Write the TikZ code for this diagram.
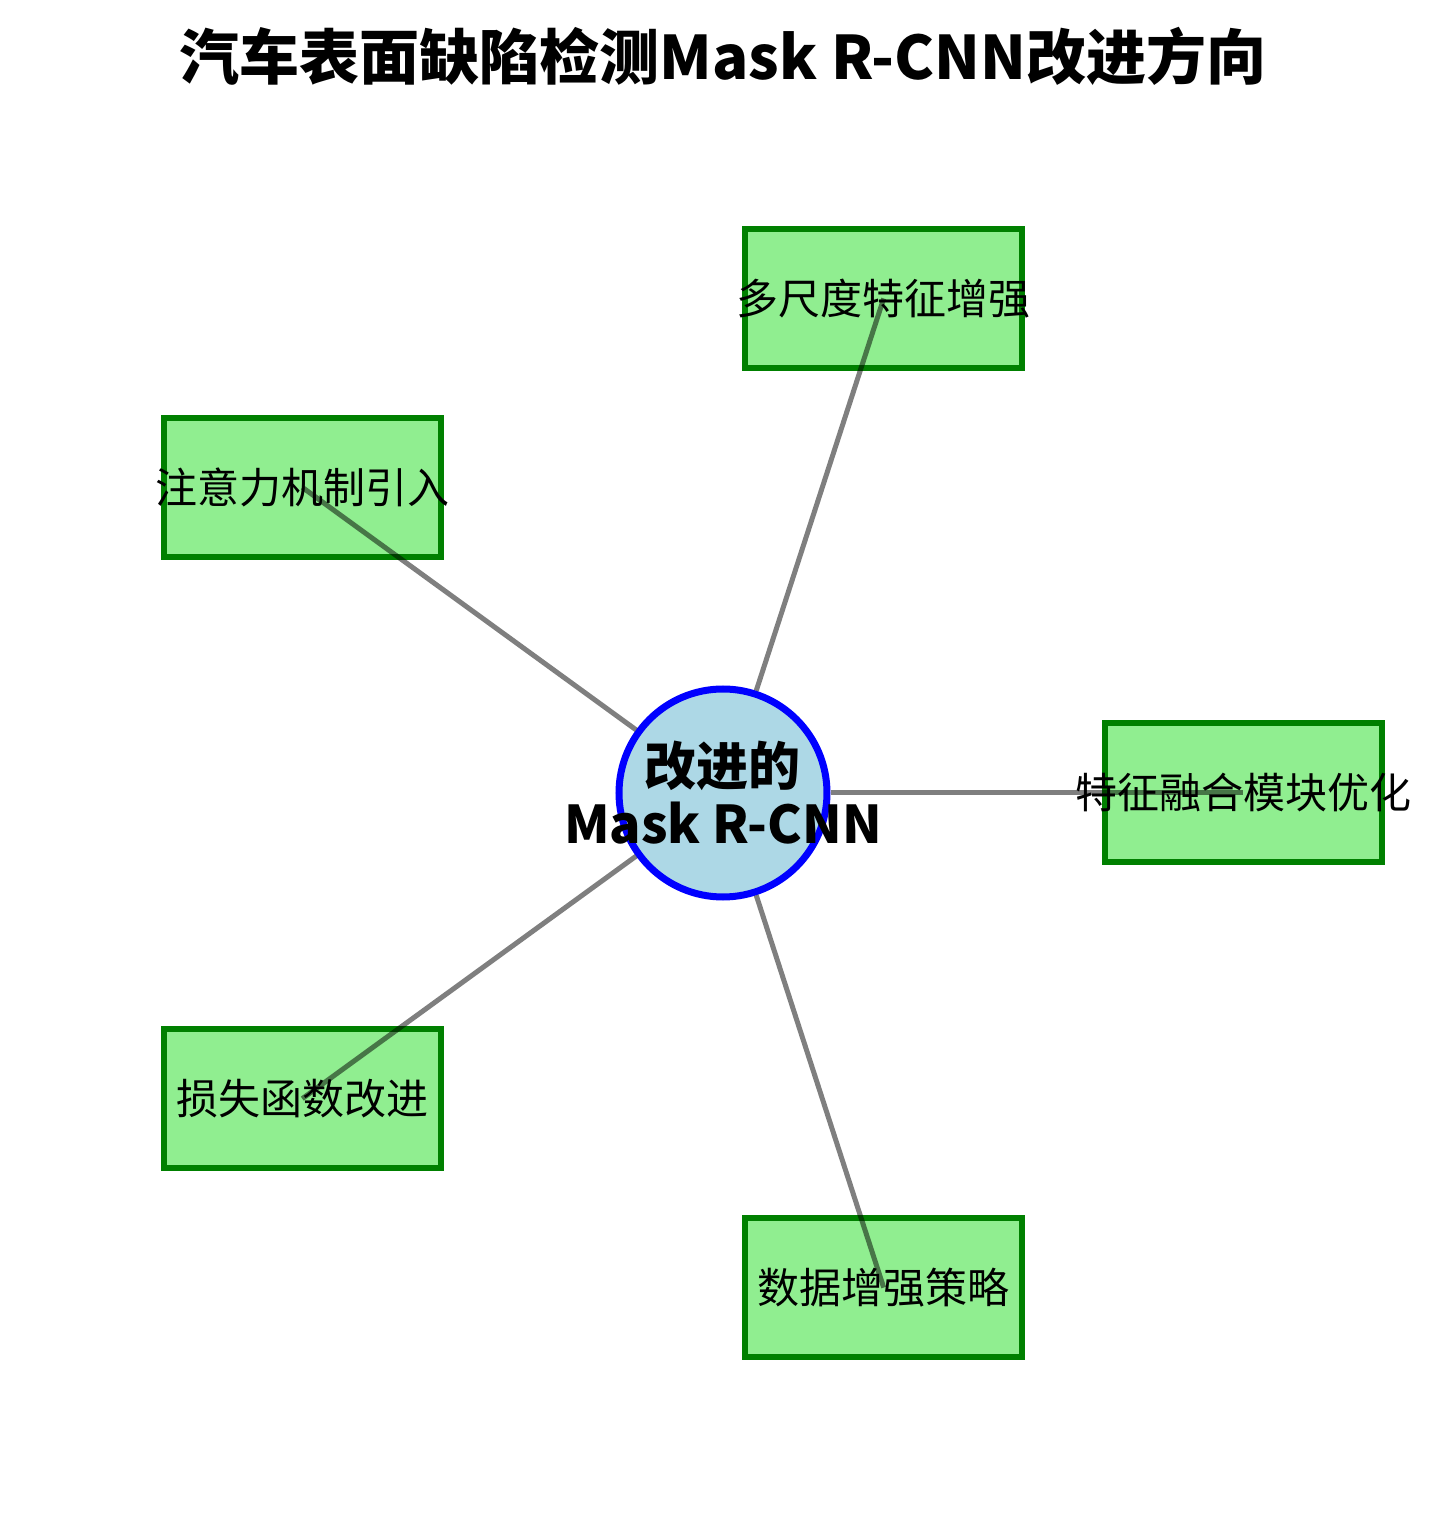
\documentclass[tikz,border=0pt]{standalone}
\usepackage{fontspec}
\setmainfont{Noto Sans CJK SC}
\usepackage{tikz}
\usetikzlibrary{positioning}
\definecolor{hubfill}{RGB}{173,216,230}
\definecolor{boxfill}{RGB}{144,238,144}
\definecolor{boxdraw}{RGB}{0,128,0}
\tikzset{
  hubnode/.style={circle, minimum size=208pt, inner sep=0pt, draw=blue,
    line width=7pt, fill=hubfill},
  hubtext/.style={align=center, font=\bfseries\fontsize{52}{58}\selectfont},
  branch/.style={rectangle, minimum width=277pt, minimum height=139pt,
    draw=boxdraw, line width=6pt, fill=boxfill},
  branchtext/.style={font=\fontsize{42}{50}\selectfont},
  link/.style={black, opacity=0.5, line width=5pt}
}

\begin{document}
\begin{tikzpicture}[x=1pt, y=1pt]
\useasboundingbox (-723,-724) rectangle (723,793);
\node (title) at (0,737) {\bfseries\fontsize{60}{70}\selectfont 汽车表面缺陷检测Mask R-CNN改进方向};
\node (hub)        [hubnode] at (0,0)    {};
\node (fusion)     [branch]  at (0:520)   {};
\node (multiscale) [branch]  at (72:520)  {};
\node (attention)  [branch]  at (144:520) {};
\node (lossfn)     [branch]  at (216:520) {};
\node (augment)    [branch]  at (288:520) {};

\draw [link] (hub) -- (fusion.center);
\draw [link] (hub) -- (multiscale.center);
\draw [link] (hub) -- (attention.center);
\draw [link] (hub) -- (lossfn.center);
\draw [link] (hub) -- (augment.center);

\node [branchtext] at (fusion)     {特征融合模块优化};
\node [branchtext] at (multiscale) {多尺度特征增强};
\node [branchtext] at (attention)  {注意力机制引入};
\node [branchtext] at (lossfn)     {损失函数改进};
\node [branchtext] at (augment)    {数据增强策略};
\node [hubtext]    at (hub)        {改进的\\Mask R-CNN};
\end{tikzpicture}
\end{document}
